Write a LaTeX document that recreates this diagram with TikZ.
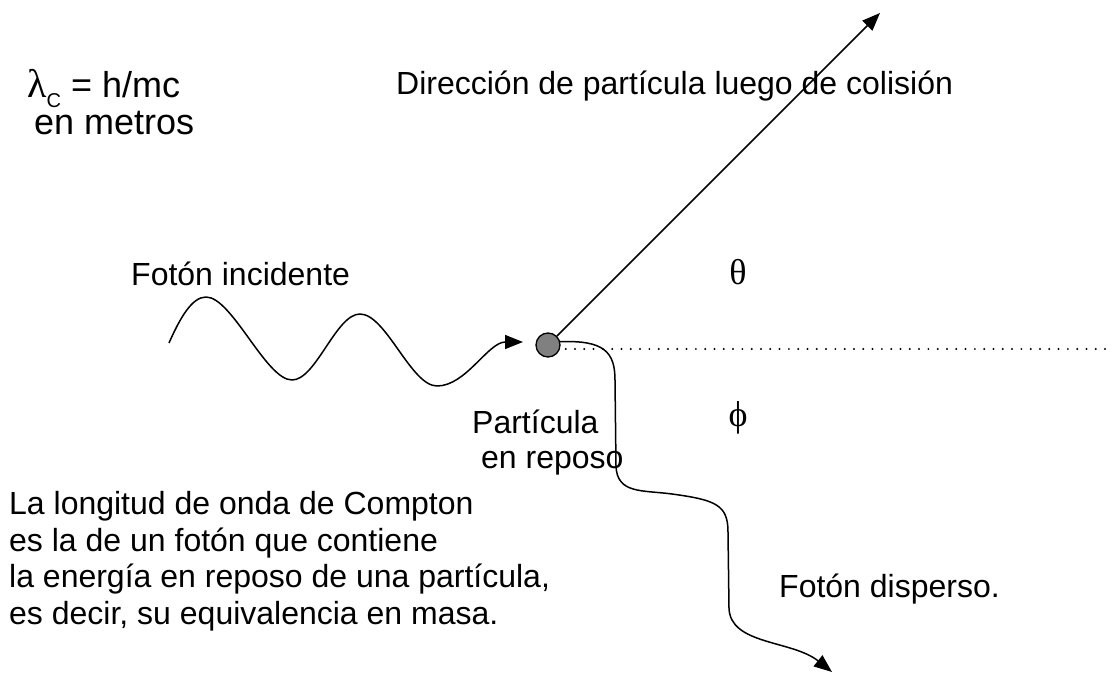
\documentclass[tikz,border=0pt]{standalone}
\usepackage{fontspec}
\setmainfont{Liberation Sans}
\newfontfamily\grk{Liberation Serif}
\usetikzlibrary{arrows.meta}
\begin{document}
\begin{tikzpicture}[x=1pt,y=-1pt,
  txt/.style={inner sep=0pt, font=\fontsize{32}{36.8}\selectfont},
  bigtxt/.style={inner sep=0pt, font=\fontsize{36}{36}\selectfont},
  grtxt/.style={inner sep=0pt, font=\grk\fontsize{36}{36}\selectfont},
  ph/.style={line width=1.5pt, line join=round},
  tip/.style={-{Triangle[length=18pt,width=14pt]}}]
\useasboundingbox (0,0) rectangle (1112,674);
% particle
\node[circle, draw, fill=gray, line width=1.3pt, minimum size=24pt, inner sep=0pt] (p) at (548,345) {};
% free ends
\coordinate (w0) at (169,343);
\coordinate (wEnd) at (523,342);
\coordinate (dirEnd) at (880,13);
\coordinate (dotEnd) at (1112,349);
\coordinate (sEnd) at (832,672);
% direction of particle after collision
\draw[ph,tip] (p) -- (dirEnd);
% dotted reference line
\draw[line width=2.2pt, line cap=round, dash pattern=on 0pt off 9.3pt] ([xshift=5pt,yshift=-4pt]p.east) -- (dotEnd);
% incident photon
\draw[ph,tip] (w0) .. controls (180,318) and (192,297) .. (206,297)
  .. controls (232,297) and (266,380) .. (292,380)
  .. controls (316,380) and (336,314) .. (360,314)
  .. controls (386,314) and (411,386) .. (437,386)
  .. controls (466,386) and (488,342) .. (wEnd);
% scattered photon
\draw[ph,tip] (p.15) .. controls (604,340) and (615,352) .. (615,380)
  -- (616,466)
  .. controls (617,494) and (642,490) .. (672,494)
  .. controls (716,500) and (728,505) .. (728,532)
  -- (729,608)
  .. controls (730,645) and (792,640) .. (sEnd);
% labels
\node[bigtxt, anchor=base west] (lam) at (27,98) {{\grk\fontsize{40}{40}\selectfont λ}\raisebox{-10pt}[0pt][0pt]{\fontsize{20}{20}\selectfont C} = h/mc};
\node[bigtxt, anchor=base west] (metros) at (34,135) {en metros};
\node[txt, anchor=base west] (dir) at (396,95) {Dirección de partícula luego de colisión};
\node[txt, anchor=base west] (inc) at (131,285) {Fotón incidente};
\node[grtxt] (theta) at (738,272) {θ};
\node[grtxt] (phi) at (738,418) {ϕ};
\node[txt, anchor=base west] (part1) at (472,433) {Partícula};
\node[txt, anchor=base west] (part2) at (481,468) {en reposo};
\node[txt, anchor=base west] (disp) at (779,597) {Fotón disperso.};
\node[txt, anchor=north west, align=left] (compton) at (9,491) {La longitud de onda de Compton\\es la de un fotón que contiene\\la energía en reposo de una partícula,\\es decir, su equivalencia en masa.};
\end{tikzpicture}
\end{document}
